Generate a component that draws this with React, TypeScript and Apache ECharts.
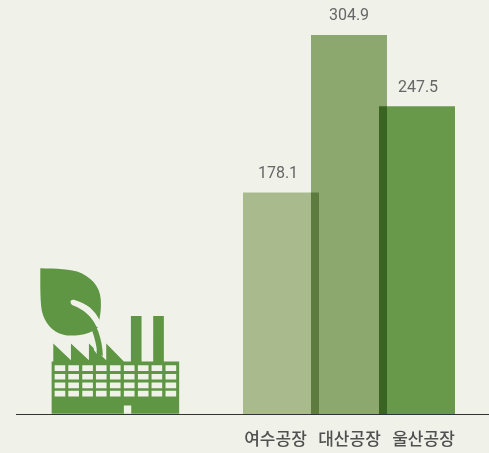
import React, { useEffect, useRef } from "react";
import * as echarts from "echarts";

const categories = ["여수공장", "대산공장", "울산공장"];
const values = [178.1, 304.9, 247.5];
const barColors = ["#a9bb8d", "#8ca86f", "#68984a"];
const labelOffsets = [-3, 0, 1];
const BG = "#f0f2ea";
const ICON = "#5f9644";

const columns = [104, 145, 187, 228, 270, 312, 354, 395, 437];
const rows = [331, 357, 383, 408];

const solidPath =
  "M61 40 C110 42 150 40 185 55 C225 75 245 105 243 150 C243 165 241 180 238 195 L238 215 L219 228 C205 235 180 243 150 242 C105 240 75 210 65 165 C60 130 61 80 61 40 Z " +
  "M95 320 L100 320 L100 266 L153 316 L153 266 L207 316 L207 266 L259 316 L259 266 L312 320 L333 320 L333 183 L365 183 L365 320 L400 320 L400 183 L432 183 L432 320 L478 320 L478 477 L95 477 Z";
const cutPath =
  "M152 143 C150 137 156 133 164 135 C200 145 225 165 240 198 L245 225 L229 215 C215 185 190 163 160 152 C155 150 153 147 152 143 Z " +
  columns.map((x) => rows.map((y) => `M${x} ${y} h32 v17 h-32 Z`).join(" ")).join(" ") +
  " M312 452 h22 v25 h-22 Z M218 228 C224 250 228 272 231 297 L222 285 L219 240 Z";
const stemPath = "M205 180 C230 205 247 250 249 303 L232 297 C230 270 224 248 216 226 Z";

echarts.graphic.registerShape("iconSolid", echarts.graphic.extendPath(solidPath, {}));
echarts.graphic.registerShape("iconCut", echarts.graphic.extendPath(cutPath, {}));
echarts.graphic.registerShape("iconStem", echarts.graphic.extendPath(stemPath, {}));

export default function App() {
  const ref = useRef<HTMLDivElement>(null);
  useEffect(() => {
    document.body.style.margin = "0";
    document.body.style.background = BG;
    const chart = echarts.init(ref.current!, undefined, { renderer: "svg" });
    chart.setOption({
      animation: false,
      grid: [
        { left: 247, top: 0, width: 204, height: 414 },
        { left: 238.5, top: 0, width: 222, height: 414 },
      ],
      xAxis: [
        {
          type: "category",
          gridIndex: 0,
          data: categories,
          axisLine: { show: false },
          axisTick: { show: false },
          axisLabel: { show: false },
        },
        {
          type: "category",
          gridIndex: 1,
          data: categories,
          axisLine: { show: false },
          axisTick: { show: false },
          axisLabel: {
            interval: 0,
            margin: 15,
            color: "#505050",
            fontSize: 17,
            fontWeight: 500,
            fontFamily: "Noto Sans CJK KR",
          },
        },
      ],
      yAxis: [
        { type: "value", gridIndex: 0, min: 0, max: 333, show: false },
        { type: "value", gridIndex: 1, min: 0, max: 333, show: false },
      ],
      series: [
        {
          type: "bar",
          xAxisIndex: 0,
          yAxisIndex: 0,
          barWidth: 76,
          clip: false,
          data: values.map((value, i) => ({
            value,
            itemStyle: { color: barColors[i] },
            label: { offset: [labelOffsets[i], 0] },
          })),
          label: {
            show: true,
            position: "top",
            distance: 12,
            color: "#666",
            fontSize: 16,
            fontFamily: "Roboto",
          },
        },
      ],
      graphic: [
        {
          type: "line",
          shape: { x1: 16, y1: 414.5, x2: 489, y2: 414.5 },
          style: { stroke: "#333", lineWidth: 1 },
          z: 10,
        },
        {
          type: "group",
          x: 20,
          y: 255,
          scaleX: 1 / 3,
          scaleY: 1 / 3,
          children: [
            { type: "iconSolid", style: { fill: ICON } },
            { type: "iconCut", style: { fill: BG } },
            { type: "iconStem", style: { fill: ICON } },
          ],
        },
      ],
    });
    const fills = barColors.map((c) => c.toLowerCase());
    chart
      .getDom()
      .querySelectorAll("svg path")
      .forEach((p) => {
        const fill = (p.getAttribute("fill") || "").toLowerCase();
        if (fills.includes(fill)) (p as SVGElement).style.mixBlendMode = "multiply";
      });
    return () => chart.dispose();
  }, []);
  return (
    <div style={{ width: 489, height: 453, background: BG }}>
      <div ref={ref} style={{ width: 489, height: 453, isolation: "isolate" }} />
    </div>
  );
}
